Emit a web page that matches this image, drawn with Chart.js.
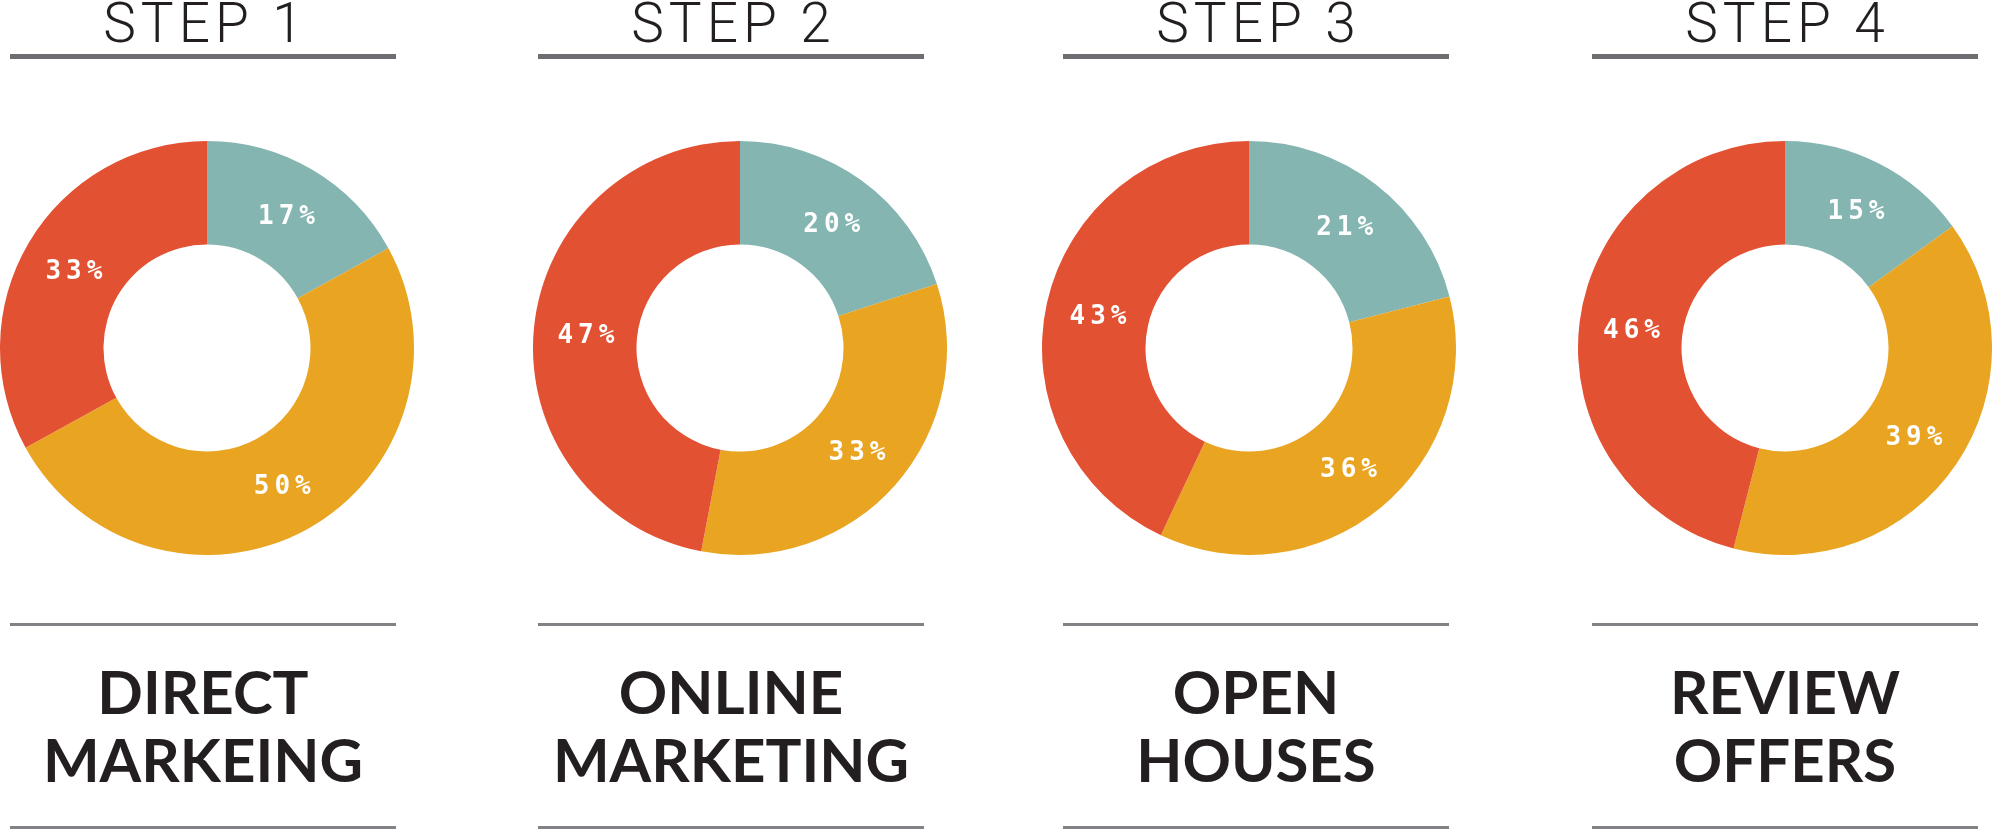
<!DOCTYPE html>
<html>
<head>
<meta charset="utf-8">
<script src="https://cdn.jsdelivr.net/npm/chart.js@4.4.1/dist/chart.umd.min.js"></script>
<style>
  html, body { margin:0; padding:0; background:#fff; }
  body { width:1993px; height:830px; overflow:hidden; position:relative; }
  .title { position:absolute; top:-4px; width:500px; text-align:center; white-space:nowrap;
           font-family:Roboto, 'Open Sans', sans-serif; font-weight:300; font-size:55px; line-height:55px;
           letter-spacing:5px; padding-left:5px; box-sizing:border-box; color:#231F20; }
  .name { position:absolute; top:657px; width:520px; text-align:center; white-space:nowrap;
          font-family:Lato, Inter, 'Open Sans', sans-serif; font-weight:700; font-size:60px; line-height:68px; color:#231F20; }
  .rule { position:absolute; height:3px; background:#808285; }
  .rule.top { height:5px; background:#6D6E71; }
  canvas.donut { position:absolute; }
</style>
</head>
<body>
<script>
// ---- data ----
const steps = ['STEP 1', 'STEP 2', 'STEP 3', 'STEP 4'];
const nameLine1 = ['DIRECT', 'ONLINE', 'OPEN', 'REVIEW'];
const nameLine2 = ['MARKEING', 'MARKETING', 'HOUSES', 'OFFERS'];
const segments = ['Teal', 'Orange', 'Red'];
const tealValues = [17, 20, 21, 15];
const orangeValues = [50, 33, 36, 39];
const redValues = [33, 47, 43, 46];
const segmentColors = ['#84B5B0', '#E9A422', '#E35133'];

// ---- layout ----
const panelCenters = [203, 731, 1256, 1785];
const donutCenters = [207, 740, 1249, 1785];
const donutCenterY = 348;
const donutRadius = 207;
const ruleWidth = 386;

const pctLabels = {
  id: 'pctLabels',
  afterDatasetsDraw(chart) {
    const ctx = chart.ctx;
    const meta = chart.getDatasetMeta(0);
    const vals = chart.data.datasets[0].data;
    ctx.save();
    ctx.fillStyle = '#ffffff';
    ctx.font = 'bold 26px "DejaVu Sans Mono", monospace';
    ctx.letterSpacing = '5px';
    ctx.textAlign = 'center';
    ctx.textBaseline = 'middle';
    meta.data.forEach((arc, k) => {
      const p = arc.tooltipPosition();
      ctx.fillText(vals[k] + '%', p.x + 3, p.y + 3);
    });
    ctx.restore();
  }
};

for (let i = 0; i < steps.length; i++) {
  const pc = panelCenters[i];
  const t = document.createElement('div');
  t.className = 'title';
  t.style.left = (pc - 250) + 'px';
  t.textContent = steps[i];
  document.body.appendChild(t);

  const r1 = document.createElement('div');
  r1.className = 'rule top';
  r1.style.left = (pc - ruleWidth / 2) + 'px';
  r1.style.top = '54px';
  r1.style.width = ruleWidth + 'px';
  document.body.appendChild(r1);

  const r2 = document.createElement('div');
  r2.className = 'rule';
  r2.style.left = (pc - ruleWidth / 2) + 'px';
  r2.style.top = '623px';
  r2.style.width = ruleWidth + 'px';
  document.body.appendChild(r2);

  const r3 = document.createElement('div');
  r3.className = 'rule';
  r3.style.left = (pc - ruleWidth / 2) + 'px';
  r3.style.top = '826px';
  r3.style.width = ruleWidth + 'px';
  document.body.appendChild(r3);

  const n = document.createElement('div');
  n.className = 'name';
  n.style.left = (pc - 260) + 'px';
  n.innerHTML = nameLine1[i] + '<br>' + nameLine2[i];
  document.body.appendChild(n);

  const c = document.createElement('canvas');
  c.className = 'donut';
  c.width = donutRadius * 2;
  c.height = donutRadius * 2;
  c.style.left = (donutCenters[i] - donutRadius) + 'px';
  c.style.top = (donutCenterY - donutRadius) + 'px';
  c.style.width = donutRadius * 2 + 'px';
  c.style.height = donutRadius * 2 + 'px';
  document.body.appendChild(c);

  new Chart(c, {
    type: 'doughnut',
    data: {
      labels: segments,
      datasets: [{
        data: [tealValues[i], orangeValues[i], redValues[i]],
        backgroundColor: segmentColors,
        borderWidth: 0,
        hoverOffset: 0,
        offset: 0
      }]
    },
    options: {
      responsive: false,
      maintainAspectRatio: false,
      animation: false,
      cutout: '50%',
      layout: { padding: 0 },
      events: [],
      plugins: { legend: { display: false }, tooltip: { enabled: false } }
    },
    plugins: [pctLabels]
  });
}
</script>
</body>
</html>
